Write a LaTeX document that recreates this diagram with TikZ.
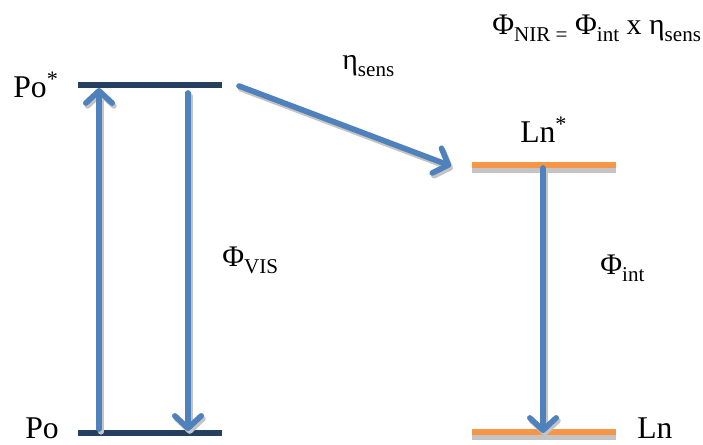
\documentclass[tikz,border=0pt]{standalone}
\usepackage{fontspec}
\setmainfont{Liberation Serif}
\usetikzlibrary{arrows.meta}
\definecolor{levelnavy}{HTML}{243F60}
\definecolor{levelorange}{HTML}{F79646}
\definecolor{arrowblue}{HTML}{4F81BD}
\definecolor{shadowgray}{HTML}{C4C4C4}
\newcommand{\lowsub}[1]{\raisebox{-0.22em}{\fontsize{12}{12}\selectfont #1}}
\tikzset{
  polevel/.style={draw=levelnavy, line width=3.6pt},
  lnlevel/.style={draw=levelorange, line width=3pt},
  lnshadow/.style={draw=shadowgray, line width=3pt},
  transfer/.style={draw=arrowblue, line width=3.2pt, line cap=round,
    -{Straight Barb[length=7pt,width=15pt,round]}},
  transfershadow/.style={transfer, draw=shadowgray},
  statetext/.style={font=\fontsize{18}{20}\selectfont, inner sep=0pt, anchor=base west},
  yieldtext/.style={font=\fontsize{17}{20}\selectfont, inner sep=0pt, anchor=base west}
}
\begin{document}
\begin{tikzpicture}[x=0.02cm, y=-0.02cm]
  \path[use as bounding box] (0,0) rectangle (703,445);
  % levels
  \coordinate (poexcL) at (78,85);   \coordinate (poexcR) at (222,85);
  \coordinate (pogndL) at (78,433);  \coordinate (pogndR) at (222,433);
  \coordinate (lnexcL) at (472,165); \coordinate (lnexcR) at (616,165);
  \coordinate (lngndL) at (472,432); \coordinate (lngndR) at (616,432);
  \draw[polevel] (poexcL) -- (poexcR);
  \draw[polevel] (pogndL) -- (pogndR);
  \draw[lnshadow] ([yshift=-2.8pt]lnexcL) -- ([yshift=-2.8pt]lnexcR);
  \draw[lnshadow] ([yshift=-2.8pt]lngndL) -- ([yshift=-2.8pt]lngndR);
  \draw[lnlevel] (lnexcL) -- (lnexcR);
  \draw[lnlevel] (lngndL) -- (lngndR);
  % state labels
  \node[statetext] (poexc) at (13,98) {Po\textsuperscript{*}};
  \node[statetext] (pognd) at (25,439) {Po};
  \node[statetext] (lnexc) at (520,143) {Ln\textsuperscript{*}};
  \node[statetext] (lngnd) at (637,439) {Ln};
  % arrows
  \coordinate (absorbA) at (99,429);  \coordinate (absorbB) at (99,88);
  \coordinate (emitA) at (188,93);    \coordinate (emitB) at (188,431);
  \coordinate (sensA) at (239,86);    \coordinate (sensB) at (451,166);
  \coordinate (lnemitA) at (543,168); \coordinate (lnemitB) at (543,433);
  \foreach \a/\b in {absorbA/absorbB, emitA/emitB, sensA/sensB, lnemitA/lnemitB}
    \draw[transfershadow] ([shift={(1pt,-1.6pt)}]\a) -- ([shift={(1pt,-1.6pt)}]\b);
  \draw[transfer] (absorbA) -- (absorbB);
  \draw[transfer] (emitA) -- (emitB);
  \draw[transfer] (sensA) -- (sensB);
  \draw[transfer] (lnemitA) -- (lnemitB);
  % yields
  \node[yieldtext] (phivis) at (222,267) {Φ\lowsub{VIS}};
  \node[yieldtext] (phiint) at (600,275) {Φ\lowsub{int}};
  \node[yieldtext] (etasens) at (342,70) {η\lowsub{sens}};
  \node[yieldtext] (phinir) at (492,35) {Φ\lowsub{NIR =} Φ\lowsub{int} x η\lowsub{sens}};
\end{tikzpicture}
\end{document}
